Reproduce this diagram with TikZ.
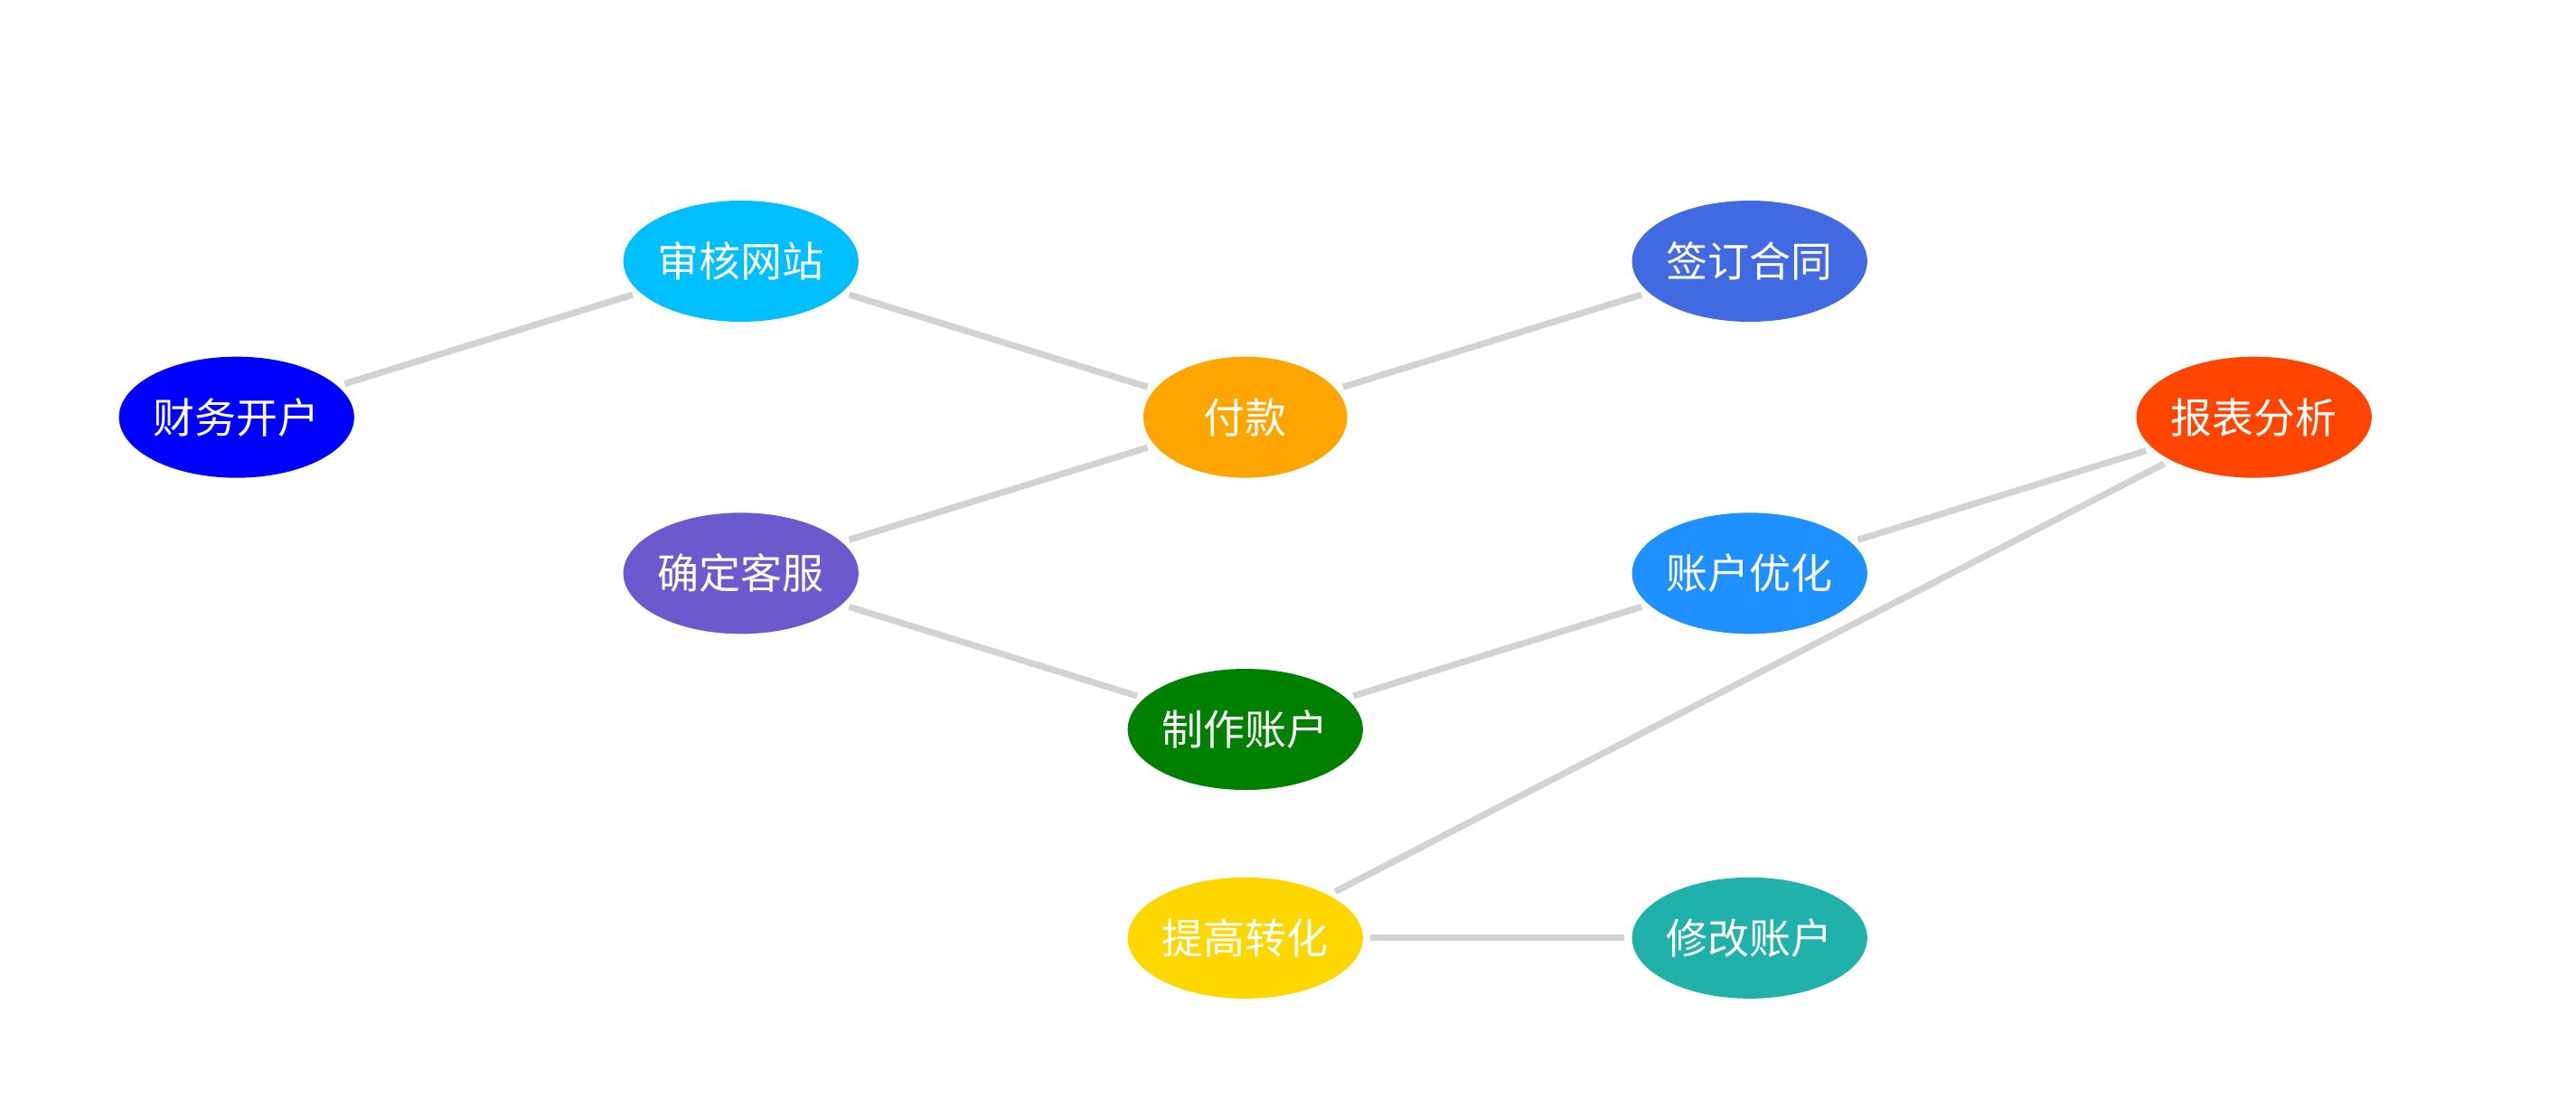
\documentclass[tikz,border=0pt]{standalone}
\usepackage{fontspec}
\newfontfamily\cjk{Noto Sans CJK SC}
\usetikzlibrary{shapes.geometric}
\definecolor{cA}{HTML}{0000FF}\definecolor{cB}{HTML}{00BFFF}\definecolor{cC}{HTML}{6A5ACD}
\definecolor{cD}{HTML}{FFA500}\definecolor{cE}{HTML}{008000}\definecolor{cF}{HTML}{FFD700}
\definecolor{cG}{HTML}{4169E1}\definecolor{cH}{HTML}{1E90FF}\definecolor{cI}{HTML}{20B2AA}
\definecolor{cJ}{HTML}{FF4500}\definecolor{edge}{HTML}{D3D3D3}
\begin{document}
\begin{tikzpicture}[x=0.9088pt,y=-0.9088pt,
  nd/.style={ellipse,minimum width=112.7pt,minimum height=67pt,inner sep=0pt,text=white,font=\cjk\fontsize{23}{26}\selectfont},
  ln/.style={draw=edge,line width=3.6pt,shorten <=4pt,shorten >=4pt}]
\useasboundingbox (0,0) rectangle (1568,668.5);
\node[nd,fill=cA] (a) at (144,254) {财务开户};
\node[nd,fill=cB] (b) at (451,159) {审核网站};
\node[nd,fill=cC] (c) at (451,349) {确定客服};
\node[nd,fill=cD] (d) at (758,254) {付款};
\node[nd,fill=cE] (e) at (758,444) {制作账户};
\node[nd,fill=cF] (f) at (758,571) {提高转化};
\node[nd,fill=cG] (g) at (1065,159) {签订合同};
\node[nd,fill=cH] (h) at (1065,349) {账户优化};
\node[nd,fill=cI] (i) at (1065,571) {修改账户};
\node[nd,fill=cJ] (j) at (1372,254) {报表分析};
\draw[ln] (a)--(b); \draw[ln] (b)--(d); \draw[ln] (c)--(d); \draw[ln] (c)--(e);
\draw[ln] (d)--(g); \draw[ln] (e)--(h); \draw[ln] (h)--(j); \draw[ln] (f)--(j);
\draw[ln] (f)--(i);
\end{tikzpicture}
\end{document}
